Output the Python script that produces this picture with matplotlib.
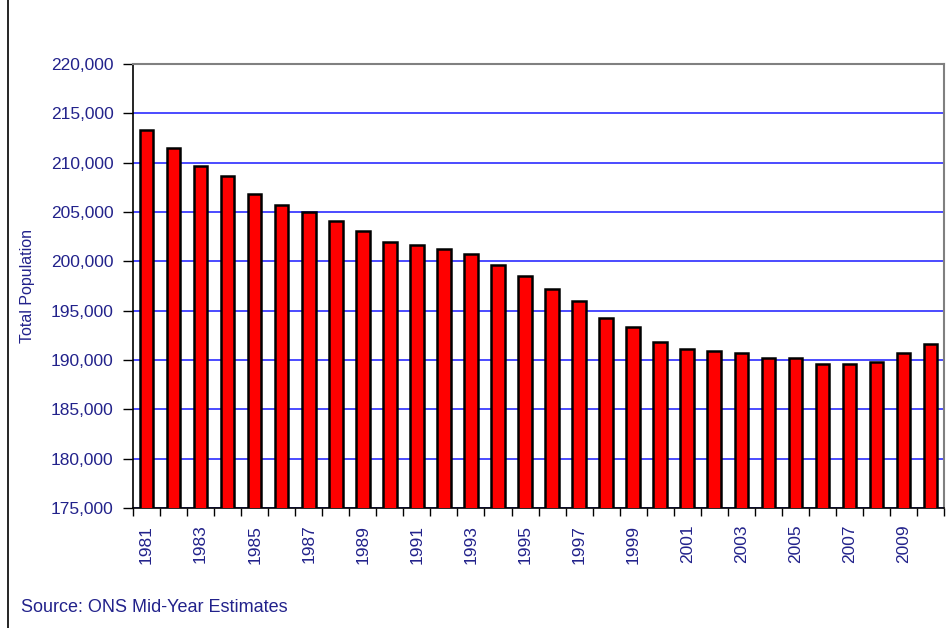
import matplotlib.pyplot as plt
import matplotlib.font_manager as fm
from matplotlib.lines import Line2D
from matplotlib.ticker import FuncFormatter, MultipleLocator
import numpy as np

years = list(range(1981, 2011))
population = [213300, 211450, 209650, 208650, 206800, 205700, 205000, 204050,
              203100, 202000, 201650, 201280, 200780, 199630, 198500, 197240,
              195950, 194260, 193340, 191860, 191110, 190950, 190750, 190200,
              190200, 189640, 189640, 189800, 190750, 191650]
year_labels = [str(y) if y % 2 == 1 else "" for y in years]

# condensed font like Arial Narrow if available
names = {f.name for f in fm.fontManager.ttflist}
font = "Liberation Sans Narrow" if "Liberation Sans Narrow" in names else "Liberation Sans"
plt.rcParams['font.family'] = [font, 'DejaVu Sans']
txt = '#22228B'

fig = plt.figure(figsize=(9.53, 6.28), dpi=100)
ax = fig.add_axes([0.1396, 0.1911, 0.9906 - 0.1396, 0.8981 - 0.1911])

x = np.arange(len(years))
ax.set_axisbelow(True)
ax.yaxis.grid(True, color='#1a1aff', linewidth=1.1)
ax.bar(x, population, width=0.5, bottom=0, color='#ff0000',
       edgecolor='black', linewidth=1.8, zorder=3)

ax.set_xlim(-0.5, len(years) - 0.5)
ax.set_ylim(175000, 220000)
ax.yaxis.set_major_locator(MultipleLocator(5000))
ax.yaxis.set_major_formatter(FuncFormatter(lambda v, p: f"{int(v):,}"))

ax.set_xticks(x)
ax.set_xticklabels(year_labels, rotation=90, color=txt, fontsize=12.5)
ax.set_xticks(np.arange(-0.5, len(years), 1.0), minor=True)
ax.tick_params(axis='x', which='major', length=0, pad=12)
ax.tick_params(axis='x', which='minor', length=6, width=1, color='black', direction='out')
ax.tick_params(axis='y', length=7, width=1, color='black', direction='out',
               labelcolor=txt, labelsize=12.5, pad=7)

for s in ['top', 'right']:
    ax.spines[s].set_color('#808080')
    ax.spines[s].set_linewidth(1.5)
for s in ['left', 'bottom']:
    ax.spines[s].set_color('black')
    ax.spines[s].set_linewidth(1.2)

fig.text(0.029, 0.545, "Total Population", rotation=90, color=txt,
         fontsize=11.5, ha='center', va='center')
fig.text(0.022, 0.032, "Source: ONS Mid-Year Estimates", color=txt,
         fontsize=13, ha='left', va='center')

# frame line on the left edge of the page
fig.add_artist(Line2D([0.0085, 0.0085], [0, 1], color='black', linewidth=1.2,
                      transform=fig.transFigure))

fig.savefig("out.png", dpi=100, facecolor='white')
